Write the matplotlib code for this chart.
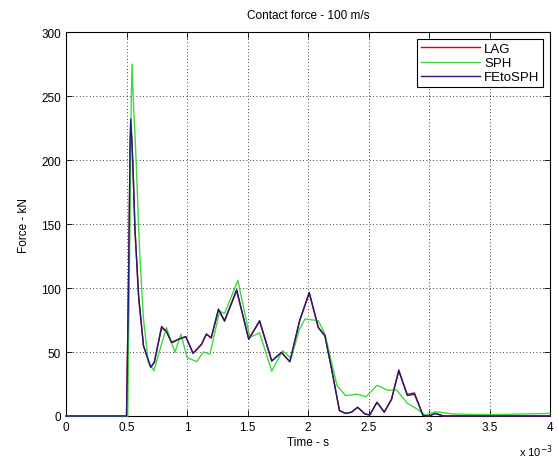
import matplotlib
matplotlib.use("Agg")
import matplotlib.pyplot as plt

plt.rcParams["font.family"] = ["Liberation Sans", "DejaVu Sans"]

# time in ms (axis shows x 10^-3 s), force in kN
t_fe = [0, 0.50, 0.515, 0.53, 0.535, 0.545, 0.556, 0.57, 0.60, 0.64, 0.70, 0.73,
        0.79, 0.83, 0.873, 0.93, 0.99, 1.05, 1.12, 1.16, 1.20, 1.26, 1.31, 1.41,
        1.51, 1.60, 1.70, 1.78, 1.85, 1.93, 2.01, 2.085, 2.14, 2.195, 2.26, 2.31,
        2.36, 2.41, 2.47, 2.51, 2.57, 2.63, 2.69, 2.75, 2.82, 2.88, 2.95, 3.0,
        3.05, 3.12, 4.0]
f_fe = [0, 0, 90, 215, 232, 215, 188, 146, 94, 55, 38, 42,
        70, 66, 57.6, 60, 62, 49, 56, 64, 61, 83.6, 74.5, 98.7,
        60, 74.5, 43, 49.7, 42.4, 74.5, 96.6, 69.3, 62.7, 36.7, 4.2, 2,
        3, 6.8, 1.6, 0.8, 10.7, 3, 13, 36, 16, 17, 0.5, 0,
        2, 0, 0]

t_lag = t_fe
f_lag = [0, 0, 92, 212, 228, 214, 186, 145, 93, 55, 38, 42,
         69, 66, 57, 60, 62, 49, 56, 64, 61, 83, 74, 98,
         60, 74, 43, 49.5, 42.4, 74, 96, 69, 62.5, 36.5, 4.2, 2,
         3, 6.8, 1.6, 0.8, 10.7, 3, 13, 35, 17, 18, 0.5, 0,
         2, 0, 0]

t_sph = [0, 0.51, 0.525, 0.54, 0.546, 0.555, 0.58, 0.606, 0.64, 0.68, 0.727,
         0.77, 0.83, 0.90, 0.95, 1.0, 1.08, 1.135, 1.19, 1.27, 1.31, 1.42, 1.52,
         1.60, 1.70, 1.79, 1.86, 1.93, 1.975, 2.085, 2.14, 2.24, 2.31, 2.41, 2.48,
         2.57, 2.66, 2.73, 2.82, 2.90, 2.97, 3.05, 3.2, 3.5, 4.0]
f_sph = [0, 0, 120, 250, 275, 250, 198, 133, 76, 42, 35.4,
         50, 69, 49.7, 64, 45.8, 42.4, 50, 48.4, 82, 80, 106, 61.5,
         65, 35, 51, 45, 68, 75.8, 74.5, 64, 23.7, 16, 17, 15,
         24, 20, 20.5, 10, 5.5, 0.5, 3.4, 1.5, 1.0, 2.0]

xticks = [0, 0.5, 1, 1.5, 2, 2.5, 3, 3.5, 4]
yticks = [0, 50, 100, 150, 200, 250, 300]

fig = plt.figure(figsize=(5.58, 4.6), dpi=100)
ax = fig.add_axes([0.1183, 0.0935, 0.8674, 0.8345])

ax.plot(t_lag, f_lag, color="#e00000", lw=1.0, label="LAG", zorder=3, clip_on=False)
ax.plot(t_sph, f_sph, color="#3fd83f", lw=1.0, label="SPH", zorder=3, clip_on=False)
ax.plot(t_fe, f_fe, color="#1e1c78", lw=1.0, label="FEtoSPH", zorder=3, clip_on=False)

ax.set_xlim(0, 4)
ax.set_ylim(0, 300)
ax.set_xticks(xticks)
ax.set_xticklabels(["%g" % v for v in xticks])
ax.set_yticks(yticks)
ax.set_yticklabels(["%g" % v for v in yticks])
ax.grid(True, color="black", linestyle=(0, (1, 3)), linewidth=0.6)
ax.tick_params(direction="in", top=True, right=True, labelsize=8.5, length=4, width=0.6)
for s in ax.spines.values():
    s.set_linewidth(0.8)

ax.set_title("Contact force - 100 m/s", fontsize=8.5, pad=10)
ax.set_xlabel("Time - s", fontsize=8.5, labelpad=2)
ax.set_ylabel("Force - kN", fontsize=8.5, labelpad=8)
ax.text(0.97, -0.09, r"x 10$^{-3}$", transform=ax.transAxes, fontsize=8, ha="center", va="center")

leg = ax.legend(loc="upper right", fontsize=9.5, handlelength=4.5, fancybox=False,
                framealpha=1, edgecolor="black", borderaxespad=0.5, labelspacing=0.15,
                borderpad=0.3, handletextpad=0.3)
leg.set_zorder(5)
leg.get_frame().set_linewidth(0.8)

fig.savefig("out.png", dpi=100)
